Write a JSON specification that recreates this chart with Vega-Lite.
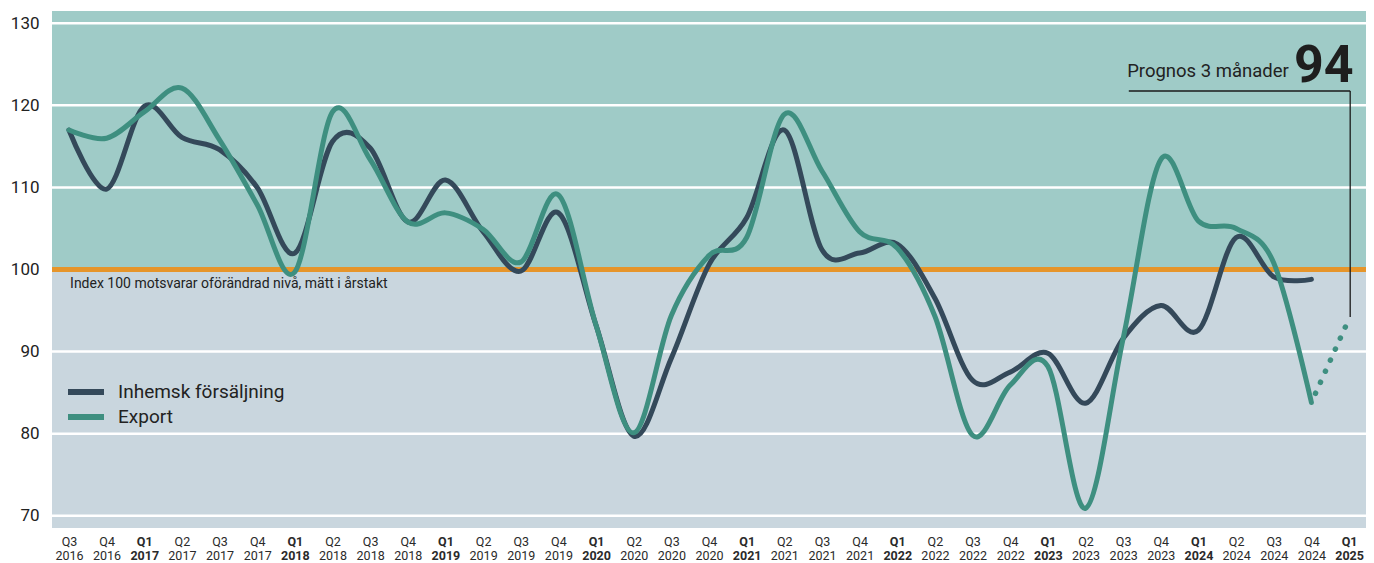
{
  "$schema": "https://vega.github.io/schema/vega-lite/v6.json",
  "width": 1314,
  "height": 517,
  "autosize": {"type": "none"},
  "padding": {"left": 52, "top": 11, "right": 8, "bottom": 35},
  "background": "#ffffff",
  "config": {
    "font": "Roboto",
    "view": {"fill": "#c9d6de", "stroke": null}
  },
  "datasets": {
    "series": [
      {"i": 0, "quarter": "Q3 2016", "serie": "Inhemsk försäljning", "value": 117},
      {"i": 1, "quarter": "Q4 2016", "serie": "Inhemsk försäljning", "value": 109.8},
      {"i": 2, "quarter": "Q1 2017", "serie": "Inhemsk försäljning", "value": 119.9},
      {"i": 3, "quarter": "Q2 2017", "serie": "Inhemsk försäljning", "value": 116.1},
      {"i": 4, "quarter": "Q3 2017", "serie": "Inhemsk försäljning", "value": 114.6},
      {"i": 5, "quarter": "Q4 2017", "serie": "Inhemsk försäljning", "value": 110},
      {"i": 6, "quarter": "Q1 2018", "serie": "Inhemsk försäljning", "value": 102},
      {"i": 7, "quarter": "Q2 2018", "serie": "Inhemsk försäljning", "value": 115.6},
      {"i": 8, "quarter": "Q3 2018", "serie": "Inhemsk försäljning", "value": 114.8},
      {"i": 9, "quarter": "Q4 2018", "serie": "Inhemsk försäljning", "value": 105.8},
      {"i": 10, "quarter": "Q1 2019", "serie": "Inhemsk försäljning", "value": 110.9},
      {"i": 11, "quarter": "Q2 2019", "serie": "Inhemsk försäljning", "value": 104.6},
      {"i": 12, "quarter": "Q3 2019", "serie": "Inhemsk försäljning", "value": 99.8},
      {"i": 13, "quarter": "Q4 2019", "serie": "Inhemsk försäljning", "value": 106.9},
      {"i": 14, "quarter": "Q1 2020", "serie": "Inhemsk försäljning", "value": 93.2},
      {"i": 15, "quarter": "Q2 2020", "serie": "Inhemsk försäljning", "value": 79.7},
      {"i": 16, "quarter": "Q3 2020", "serie": "Inhemsk försäljning", "value": 89.2},
      {"i": 17, "quarter": "Q4 2020", "serie": "Inhemsk försäljning", "value": 100.6},
      {"i": 18, "quarter": "Q1 2021", "serie": "Inhemsk försäljning", "value": 106.3},
      {"i": 19, "quarter": "Q2 2021", "serie": "Inhemsk försäljning", "value": 117},
      {"i": 20, "quarter": "Q3 2021", "serie": "Inhemsk försäljning", "value": 102.4},
      {"i": 21, "quarter": "Q4 2021", "serie": "Inhemsk försäljning", "value": 102},
      {"i": 22, "quarter": "Q1 2022", "serie": "Inhemsk försäljning", "value": 103.1},
      {"i": 23, "quarter": "Q2 2022", "serie": "Inhemsk försäljning", "value": 96.5},
      {"i": 24, "quarter": "Q3 2022", "serie": "Inhemsk försäljning", "value": 86.5},
      {"i": 25, "quarter": "Q4 2022", "serie": "Inhemsk försäljning", "value": 87.5},
      {"i": 26, "quarter": "Q1 2023", "serie": "Inhemsk försäljning", "value": 89.8},
      {"i": 27, "quarter": "Q2 2023", "serie": "Inhemsk försäljning", "value": 83.7},
      {"i": 28, "quarter": "Q3 2023", "serie": "Inhemsk försäljning", "value": 91.6},
      {"i": 29, "quarter": "Q4 2023", "serie": "Inhemsk försäljning", "value": 95.6},
      {"i": 30, "quarter": "Q1 2024", "serie": "Inhemsk försäljning", "value": 92.6},
      {"i": 31, "quarter": "Q2 2024", "serie": "Inhemsk försäljning", "value": 103.9},
      {"i": 32, "quarter": "Q3 2024", "serie": "Inhemsk försäljning", "value": 99.1},
      {"i": 33, "quarter": "Q4 2024", "serie": "Inhemsk försäljning", "value": 98.8},
      {"i": 0, "quarter": "Q3 2016", "serie": "Export", "value": 117},
      {"i": 1, "quarter": "Q4 2016", "serie": "Export", "value": 116},
      {"i": 2, "quarter": "Q1 2017", "serie": "Export", "value": 119.2},
      {"i": 3, "quarter": "Q2 2017", "serie": "Export", "value": 122.1},
      {"i": 4, "quarter": "Q3 2017", "serie": "Export", "value": 115.8},
      {"i": 5, "quarter": "Q4 2017", "serie": "Export", "value": 107.9},
      {"i": 6, "quarter": "Q1 2018", "serie": "Export", "value": 99.7},
      {"i": 7, "quarter": "Q2 2018", "serie": "Export", "value": 119.2},
      {"i": 8, "quarter": "Q3 2018", "serie": "Export", "value": 113.4},
      {"i": 9, "quarter": "Q4 2018", "serie": "Export", "value": 105.8},
      {"i": 10, "quarter": "Q1 2019", "serie": "Export", "value": 106.9},
      {"i": 11, "quarter": "Q2 2019", "serie": "Export", "value": 104.9},
      {"i": 12, "quarter": "Q3 2019", "serie": "Export", "value": 100.9},
      {"i": 13, "quarter": "Q4 2019", "serie": "Export", "value": 109.1},
      {"i": 14, "quarter": "Q1 2020", "serie": "Export", "value": 93.2},
      {"i": 15, "quarter": "Q2 2020", "serie": "Export", "value": 80.1},
      {"i": 16, "quarter": "Q3 2020", "serie": "Export", "value": 94.4},
      {"i": 17, "quarter": "Q4 2020", "serie": "Export", "value": 101.7},
      {"i": 18, "quarter": "Q1 2021", "serie": "Export", "value": 103.9},
      {"i": 19, "quarter": "Q2 2021", "serie": "Export", "value": 118.9},
      {"i": 20, "quarter": "Q3 2021", "serie": "Export", "value": 112},
      {"i": 21, "quarter": "Q4 2021", "serie": "Export", "value": 104.6},
      {"i": 22, "quarter": "Q1 2022", "serie": "Export", "value": 102.6},
      {"i": 23, "quarter": "Q2 2022", "serie": "Export", "value": 94.3},
      {"i": 24, "quarter": "Q3 2022", "serie": "Export", "value": 79.8},
      {"i": 25, "quarter": "Q4 2022", "serie": "Export", "value": 85.9},
      {"i": 26, "quarter": "Q1 2023", "serie": "Export", "value": 88.2},
      {"i": 27, "quarter": "Q2 2023", "serie": "Export", "value": 70.9},
      {"i": 28, "quarter": "Q3 2023", "serie": "Export", "value": 91.6},
      {"i": 29, "quarter": "Q4 2023", "serie": "Export", "value": 113.4},
      {"i": 30, "quarter": "Q1 2024", "serie": "Export", "value": 105.9},
      {"i": 31, "quarter": "Q2 2024", "serie": "Export", "value": 105},
      {"i": 32, "quarter": "Q3 2024", "serie": "Export", "value": 100.8},
      {"i": 33, "quarter": "Q4 2024", "serie": "Export", "value": 83.8}
    ],
    "forecast": [
      {"i": 33, "quarter": "Q4 2024", "value": 83.8},
      {"i": 34, "quarter": "Q1 2025", "value": 94}
    ],
    "grid": [
      {"v": 70}, {"v": 80}, {"v": 90}, {"v": 110}, {"v": 120}, {"v": 130}
    ],
    "zones": [
      {"lo": 100, "hi": 131.5}
    ],
    "callout": [
      {"x": 28.15, "x2": 34.03, "y": 121.75, "y2": 121.75},
      {"x": 34.03, "x2": 34.03, "y": 121.75, "y2": 94.2}
    ],
    "labels": [
      {"x": 32.4, "y": 123.4, "text": "Prognos 3 månader", "kind": "prognos"},
      {"x": 34.12, "y": 122.85, "text": "94", "kind": "big"}
    ]
  },
  "encoding": {
    "x": {
      "field": "i",
      "type": "quantitative",
      "scale": {"domain": [-0.45, 34.45], "nice": false, "zero": false},
      "axis": {
        "values": [0,1,2,3,4,5,6,7,8,9,10,11,12,13,14,15,16,17,18,19,20,21,22,23,24,25,26,27,28,29,30,31,32,33,34],
        "title": null,
        "grid": false,
        "domain": false,
        "ticks": false,
        "labelPadding": 7,
        "labelFontSize": 12.5,
        "labelColor": "#2a2a2a",
        "labelLineHeight": 14,
        "labelFlush": false,
        "labelOverlap": false,
        "labelBaseline": "top",
        "labelFontWeight": {"condition": {"test": "datum.value % 4 == 2", "value": "bold"}, "value": "normal"},
        "labelExpr": "['Q' + (((datum.value + 2) % 4) + 1), '' + (2016 + floor((datum.value + 2) / 4))]"
      }
    },
    "y": {
      "field": "value",
      "type": "quantitative",
      "scale": {"domain": [68.5, 131.5], "nice": false, "zero": false},
      "axis": {
        "values": [70, 80, 90, 100, 110, 120, 130],
        "title": null,
        "grid": false,
        "domain": false,
        "ticks": false,
        "labelPadding": 13,
        "labelFontSize": 17,
        "labelColor": "#222222"
      }
    }
  },
  "layer": [
    {
      "data": {"name": "zones"},
      "mark": {"type": "rect", "color": "#9fcbc7"},
      "encoding": {
        "x": null,
        "y": {"field": "lo", "type": "quantitative"},
        "y2": {"field": "hi"}
      }
    },
    {
      "data": {"name": "grid"},
      "mark": {"type": "rule", "color": "#ffffff", "strokeWidth": 2.5},
      "encoding": {
        "x": null,
        "y": {"field": "v", "type": "quantitative"}
      }
    },
    {
      "data": {"values": [{"v": 100}]},
      "mark": {"type": "rule", "color": "#e6952a", "strokeWidth": 5},
      "encoding": {
        "x": null,
        "y": {"field": "v", "type": "quantitative"}
      }
    },
    {
      "data": {"values": [{"x": 0.03, "y": 97.74, "text": "Index 100 motsvarar oförändrad nivå, mätt i årstakt"}]},
      "mark": {"type": "text", "align": "left", "baseline": "alphabetic", "fontSize": 14, "color": "#222222"},
      "encoding": {
        "x": {"field": "x", "type": "quantitative"},
        "y": {"field": "y", "type": "quantitative"},
        "text": {"field": "text"}
      }
    },
    {
      "data": {"name": "series"},
      "mark": {"type": "line", "interpolate": "cardinal", "strokeWidth": 5, "strokeCap": "round"},
      "encoding": {
        "color": {
          "field": "serie",
          "type": "nominal",
          "sort": ["Inhemsk försäljning", "Export"],
          "scale": {"domain": ["Inhemsk försäljning", "Export"], "range": ["#34495a", "#3e8f80"]},
          "legend": {
            "orient": "none",
            "legendX": 21,
            "legendY": 368,
            "padding": 0,
            "title": null,
            "symbolType": "M-1.8,0H1.8",
            "symbolSize": 400,
            "symbolStrokeWidth": 6,
            "labelFontSize": 19,
            "labelLimit": 400,
            "labelColor": "#222222",
            "labelOffset": 19,
            "rowPadding": -3
          }
        }
      }
    },
    {
      "data": {"name": "forecast"},
      "mark": {"type": "line", "color": "#3e8f80", "strokeWidth": 5.5, "strokeCap": "round", "strokeDash": [0.1, 12], "strokeDashOffset": -10},
      "encoding": {}
    },
    {
      "data": {"name": "callout"},
      "mark": {"type": "rule", "color": "#1a1a1a", "strokeWidth": 1.3},
      "encoding": {
        "x": {"field": "x", "type": "quantitative"},
        "x2": {"field": "x2"},
        "y": {"field": "y", "type": "quantitative"},
        "y2": {"field": "y2"}
      }
    },
    {
      "data": {"name": "labels"},
      "transform": [{"filter": "datum.kind == 'prognos'"}],
      "mark": {"type": "text", "align": "right", "baseline": "alphabetic", "fontSize": 18.5, "color": "#222222"},
      "encoding": {
        "x": {"field": "x", "type": "quantitative"},
        "y": {"field": "y", "type": "quantitative"},
        "text": {"field": "text"}
      }
    },
    {
      "data": {"name": "labels"},
      "transform": [{"filter": "datum.kind == 'big'"}],
      "mark": {"type": "text", "align": "right", "baseline": "alphabetic", "fontSize": 52, "fontWeight": "bold", "color": "#1e1e1e"},
      "encoding": {
        "x": {"field": "x", "type": "quantitative"},
        "y": {"field": "y", "type": "quantitative"},
        "text": {"field": "text"}
      }
    }
  ]
}
